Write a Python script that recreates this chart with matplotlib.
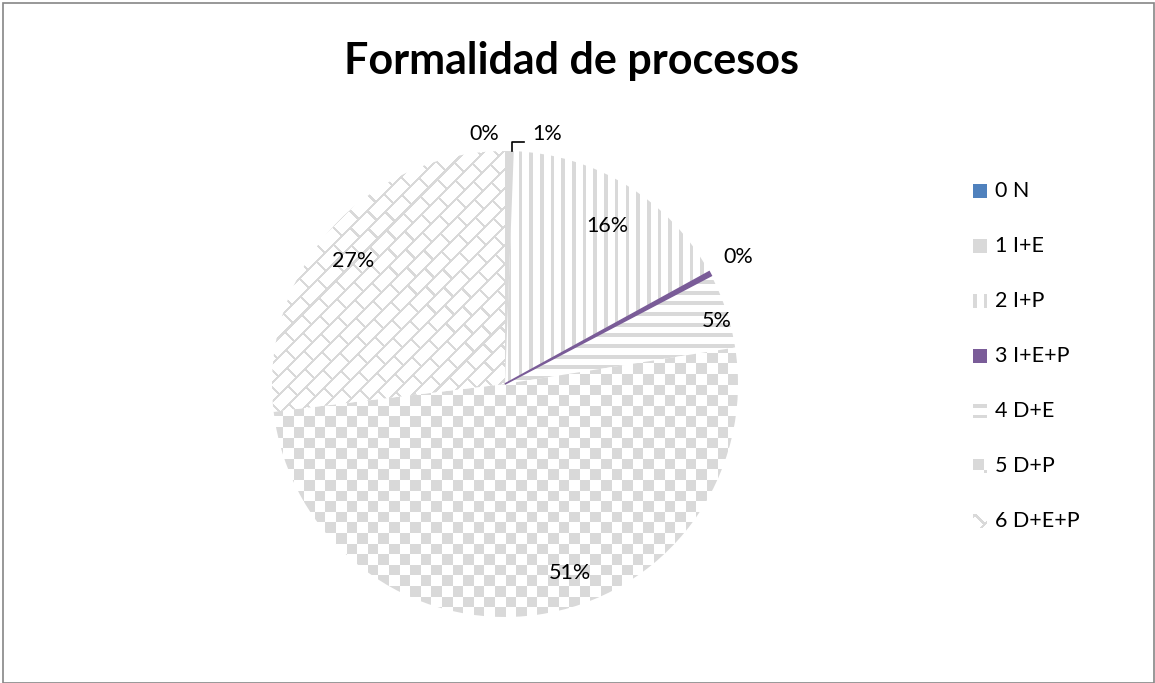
#!/usr/bin/env python3
# pie chart with Excel-like pattern fills
import numpy as np
import matplotlib
matplotlib.use("Agg")
import matplotlib.pyplot as plt
from matplotlib.patches import Rectangle

plt.rcParams['font.family'] = ['Lato', 'DejaVu Sans']

title = 'Formalidad de procesos'
categories = ['0 N', '1 I+E', '2 I+P', '3 I+E+P', '4 D+E', '5 D+P', '6 D+E+P']
shares = [0.0, 0.6, 16.4, 0.3, 5.2, 50.6, 26.9]   # percent
# where each percentage label sits (axes data coords, pie radius = 1)
label_pos = [(-0.09, 1.075), (0.18, 1.075), (0.44, 0.68), (1.0, 0.545),
             (0.91, 0.27), (0.28, -0.81), (-0.65, 0.53)]

GREY = '#d9d9d9'
BLUE = '#4f81bd'
PURPLE = '#7a5c98'

W, H = 1155, 683
fig = plt.figure(figsize=(W / 100, H / 100), dpi=100)
fig.patch.set_facecolor('white')

# pie axes: centre (505, 384) px, radius 233 px
cx, cy, r = 505, 384, 233
ax = fig.add_axes([(cx - r) / W, (H - cy - r) / H, 2 * r / W, 2 * r / H])
ax.axis('off')

colors = [BLUE, GREY, 'white', PURPLE, 'white', 'white', 'white']
wedges, _ = ax.pie(shares, colors=colors, startangle=90, counterclock=False,
                   radius=1, wedgeprops=dict(linewidth=0))
wedges[3].set_edgecolor(PURPLE)
wedges[3].set_linewidth(1.2)

# pattern textures, about one texel per screen pixel
n = 2 * r
ii, jj = np.mgrid[0:n, 0:n].astype(float)
vert = (jj % 10.7) < 3.6
horiz = (ii % 10.7) < 4.0
checker = ((np.floor(ii / 10.6) + np.floor(jj / 10.6)) % 2) == 0
s = (ii + jj) / np.sqrt(2)
t = (jj - ii) / np.sqrt(2)
P, L = 13.5, 24.0
row = np.floor(s / P)
brick = ((s % P) < 2.2) | (((t + (row % 2) * L / 2) % L) < 2.2)

grey_rgb = np.array([217, 217, 217]) / 255.0


def texture(mask):
    img = np.ones(mask.shape + (3,))
    img[mask] = grey_rgb
    return img


textures = {2: vert, 4: horiz, 5: checker, 6: brick}
for k, mask in textures.items():
    im = ax.imshow(texture(mask), extent=[-1, 1, -1, 1],
                   interpolation='bilinear', zorder=2)
    im.set_clip_path(wedges[k])
wedges[3].set_zorder(3)
wedges[1].set_zorder(3)

ax.set_xlim(-1, 1)
ax.set_ylim(-1, 1)
ax.set_aspect('equal')

for val, (x, y) in zip(shares, label_pos):
    ax.text(x, y, f'{round(val):.0f}%', ha='center', va='center', fontsize=15.5,
            color='black', zorder=5, clip_on=False)

# leader line for the 1% label
ax.plot([0.03, 0.03, 0.08], [1.0, 1.04, 1.04], color='black', lw=1.2,
        clip_on=False, zorder=5)

fig.text(571 / W, 1 - 61 / H, title, ha='center', va='center',
         fontsize=31, fontweight='bold')

# legend: small swatches carrying the same fills as the slices
sw = 14
y0, dy = 191, 55
for i, name in enumerate(categories):
    yc = y0 + i * dy
    sax = fig.add_axes([973 / W, (H - yc - sw / 2) / H, sw / W, sw / H])
    sax.axis('off')
    if i in textures:
        sax.imshow(texture(textures[i][:sw, :sw]), interpolation='nearest',
                   aspect='auto')
    else:
        sax.add_patch(Rectangle((0, 0), 1, 1, facecolor=colors[i], edgecolor='none'))
        sax.set_xlim(0, 1)
        sax.set_ylim(0, 1)
    fig.text(995 / W, 1 - yc / H, name, ha='left', va='center', fontsize=15.5)

fig.add_artist(Rectangle((3 / W, 0), 1 - 4 / W, 1 - 3 / H, transform=fig.transFigure,
                         fill=False, edgecolor='#868686', linewidth=1.2))

fig.savefig('out.png', dpi=100)
